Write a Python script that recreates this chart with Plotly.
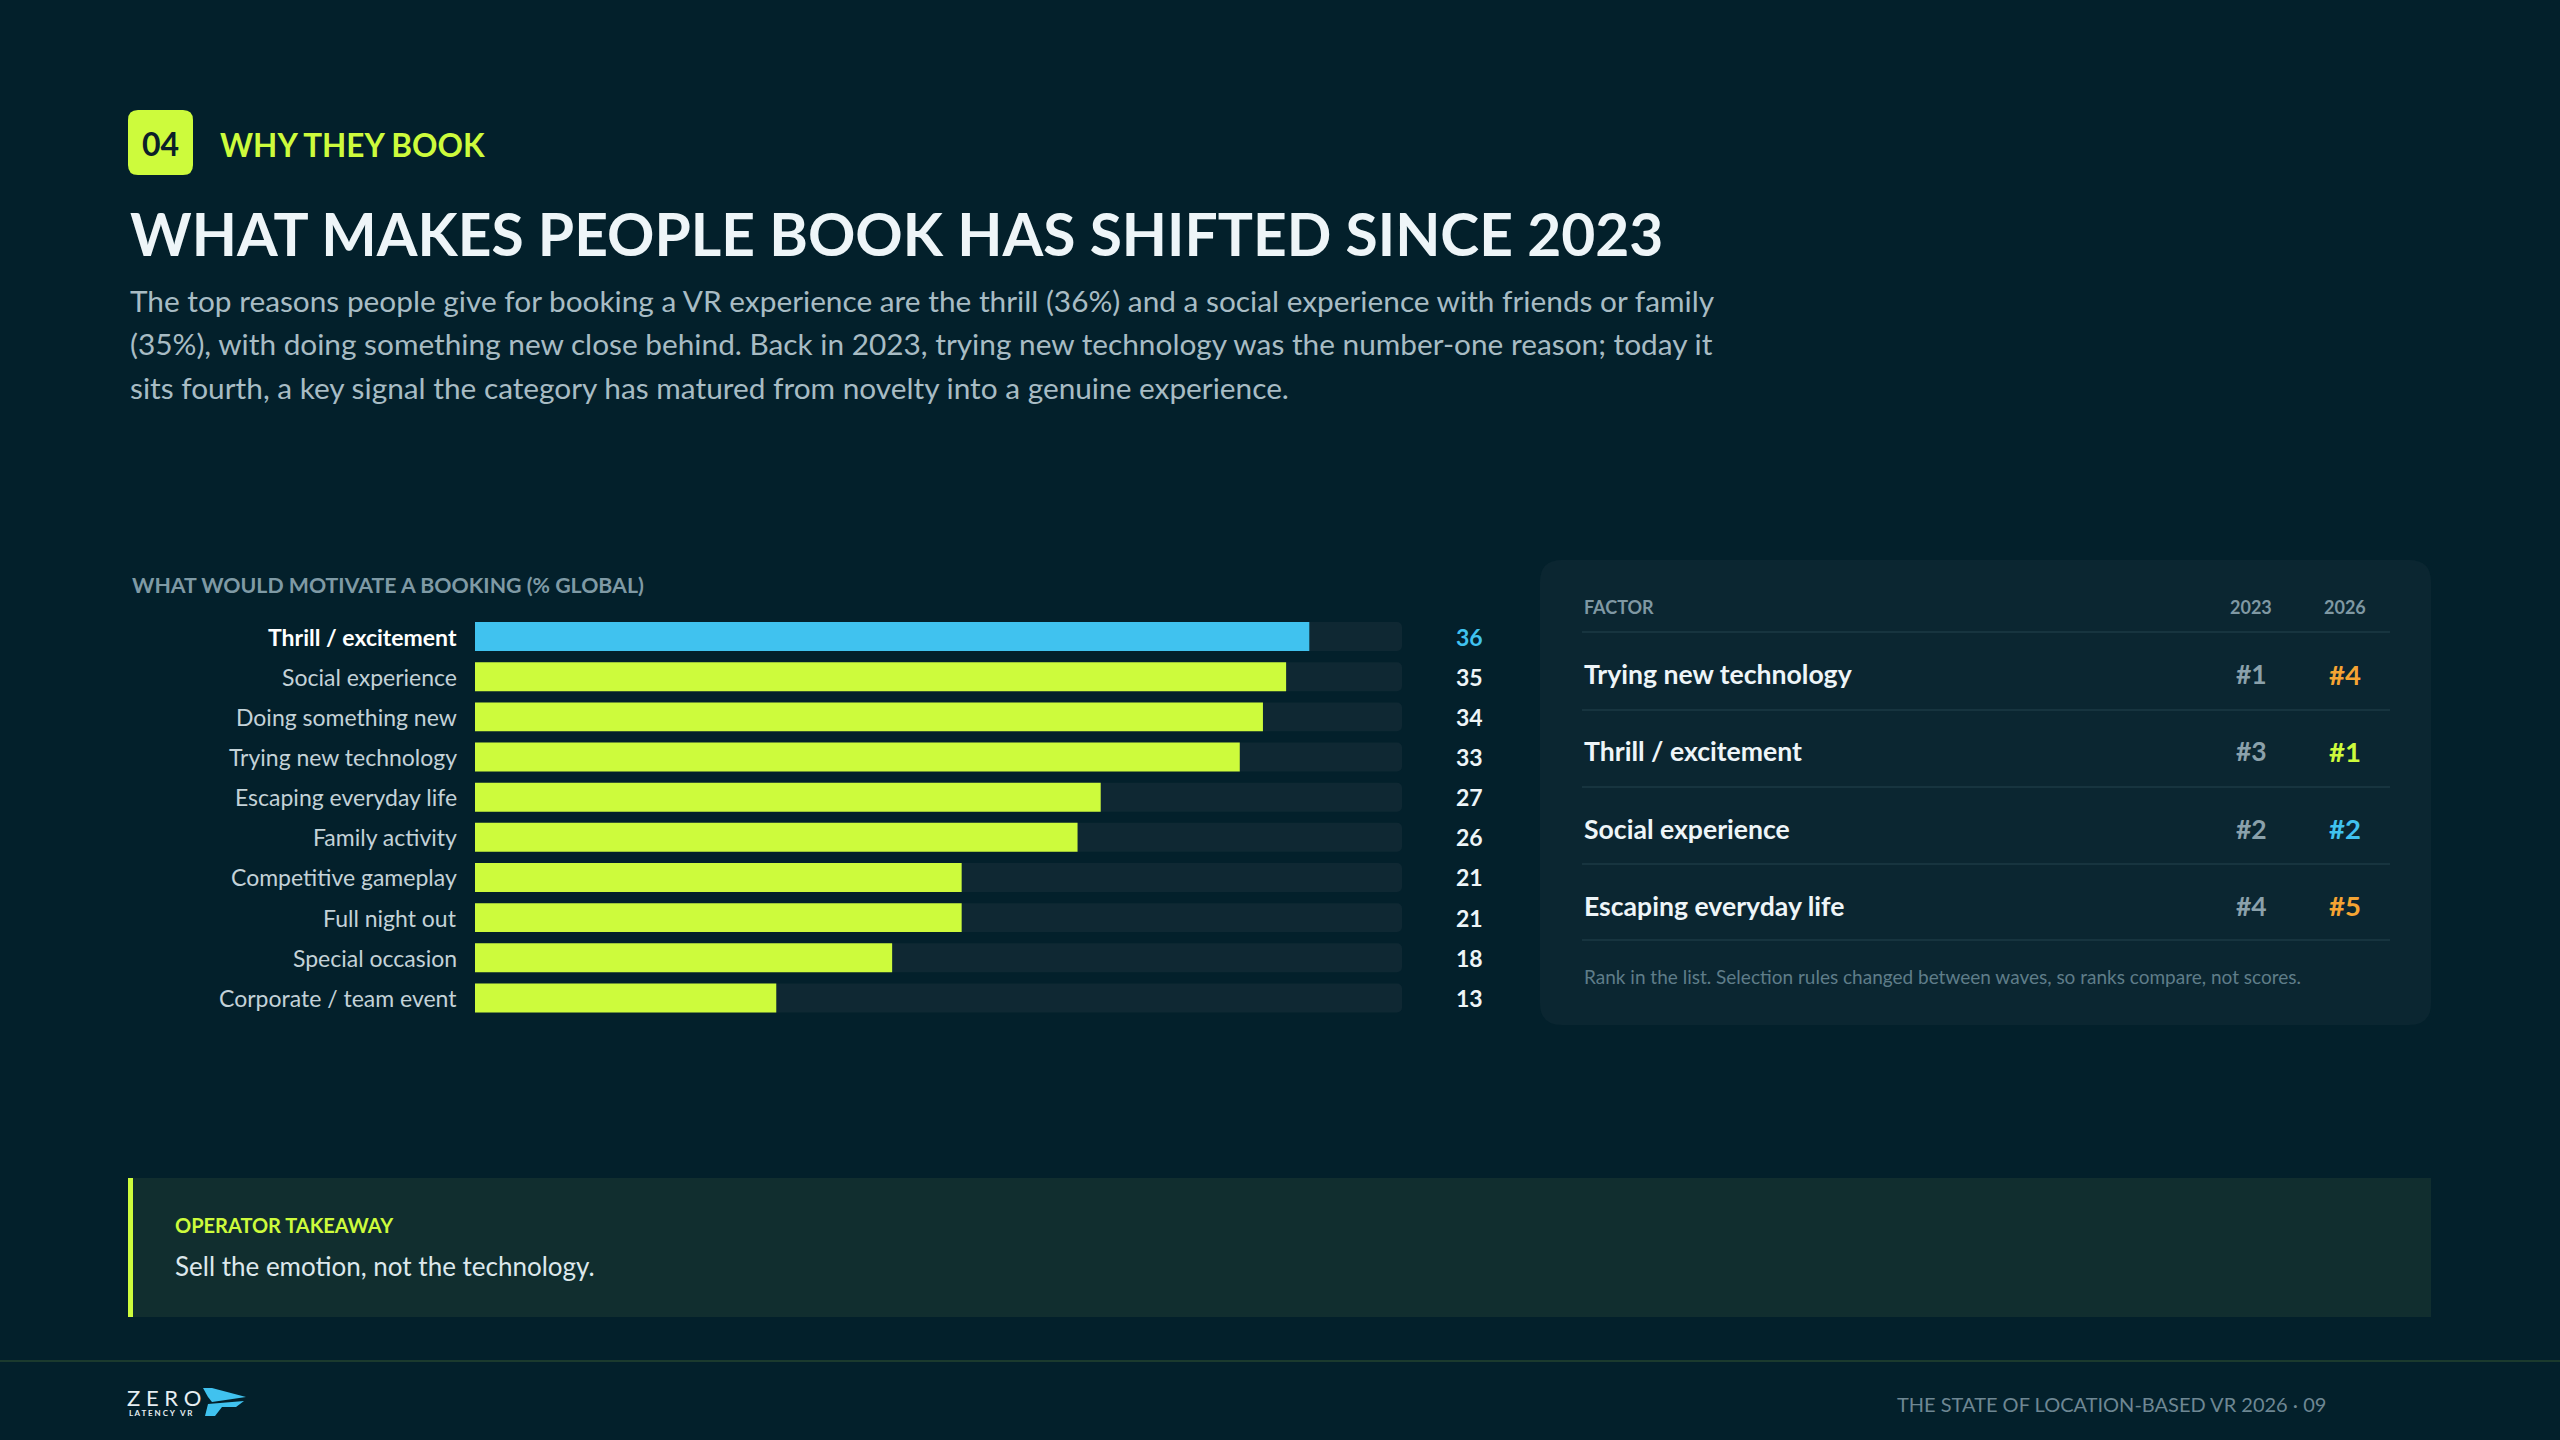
import plotly.graph_objects as go

# === Data ===
categories = [
    "Thrill / excitement", "Social experience", "Doing something new",
    "Trying new technology", "Escaping everyday life", "Family activity",
    "Competitive gameplay", "Full night out", "Special occasion",
    "Corporate / team event",
]
values = [36, 35, 34, 33, 27, 26, 21, 21, 18, 13]
scale_max = 40

table_factors = ["Trying new technology", "Thrill / excitement", "Social experience", "Escaping everyday life"]
rank_2023 = ["#1", "#3", "#2", "#4"]
rank_2026 = ["#4", "#1", "#2", "#5"]

paragraph_lines = [
    "The top reasons people give for booking a VR experience are the thrill (36%) and a social experience with friends or family",
    "(35%), with doing something new close behind. Back in 2023, trying new technology was the number-one reason; today it",
    "sits fourth, a key signal the category has matured from novelty into a genuine experience.",
]

# === Style ===
W, H = 2560, 1440
BG = "#03202b"
LIME = "#cdfb3c"
BLUE = "#40c2ef"
ORANGE = "#f5a433"
TRACK = "#0f2833"
PANEL = "#0b2631"
FONT = "Lato"
rank_2026_colors = [ORANGE, LIME, BLUE, ORANGE]


def px(x):
    return x / W


def py(y):
    return 1 - y / H


def rrect(x0, y0, x1, y1, r, fill):
    # rounded rectangle in page pixels -> paper path
    pts = (f"M {px(x0 + r)},{py(y0)} L {px(x1 - r)},{py(y0)} "
           f"Q {px(x1)},{py(y0)} {px(x1)},{py(y0 + r)} L {px(x1)},{py(y1 - r)} "
           f"Q {px(x1)},{py(y1)} {px(x1 - r)},{py(y1)} L {px(x0 + r)},{py(y1)} "
           f"Q {px(x0)},{py(y1)} {px(x0)},{py(y1 - r)} L {px(x0)},{py(y0 + r)} "
           f"Q {px(x0)},{py(y0)} {px(x0 + r)},{py(y0)} Z")
    return dict(type="path", path=pts, xref="paper", yref="paper",
                fillcolor=fill, line=dict(width=0), layer="below")


def txt(x, y, text, size, color, weight=400, anchor="left", yref="paper"):
    return dict(x=px(x), y=py(y) if yref == "paper" else y, xref="paper", yref=yref,
                text=text, showarrow=False, xanchor=anchor, yanchor="middle",
                font=dict(family=FONT, size=size, color=color, weight=weight))


fig = go.Figure()

# Track bars (full scale) then value bars on top
fig.add_trace(go.Bar(
    y=categories, x=[scale_max] * len(categories), orientation="h",
    marker=dict(color=TRACK, cornerradius=5, line=dict(width=0)), width=0.72, hoverinfo="skip",
))
fig.add_trace(go.Bar(
    y=categories, x=values, orientation="h",
    marker=dict(color=[BLUE] + [LIME] * (len(values) - 1), cornerradius=7, line=dict(width=0)),
    width=0.72,
))

shapes = []
annotations = []

# Header
shapes.append(rrect(128, 110, 193, 175, 10, LIME))
annotations.append(txt(160.5, 144, "04", 32, "#0b2029", 700, "center"))
annotations.append(txt(218, 145, "WHY THEY BOOK", 31.5, LIME, 700))
annotations.append(txt(128, 234, "WHAT MAKES PEOPLE BOOK HAS SHIFTED SINCE 2023", 58.7, "#eef5f8", 700))
for i, line in enumerate(paragraph_lines):
    annotations.append(txt(128, 300 + i * 43.5, line, 29.8, "#a8bcc4"))

# Bar chart labels
annotations.append(txt(130, 585, "WHAT WOULD MOTIVATE A BOOKING (% GLOBAL)", 21.3, "#7f9aa5", 700))
for i, (cat, val) in enumerate(zip(categories, values)):
    top = i == 0
    annotations.append(txt(459, cat, cat, 23, "#ffffff" if top else "#c3d2d8",
                           700 if top else 400, "right", yref="y"))
    annotations.append(txt(1485, cat, str(val), 23, BLUE if top else "#eef5f8", 700, "right", yref="y"))

# Ranking panel
shapes.append(rrect(1540, 560, 2431, 1025, 22, PANEL))
annotations.append(txt(1582, 607, "FACTOR", 18, "#7f98a3", 700))
annotations.append(txt(2251, 607, "2023", 18, "#7f98a3", 700, "center"))
annotations.append(txt(2345, 607, "2026", 18, "#7f98a3", 700, "center"))
for ly in [632, 710, 787, 864, 940]:
    shapes.append(dict(type="line", xref="paper", yref="paper", x0=px(1582), x1=px(2390),
                       y0=py(ly), y1=py(ly), line=dict(color="#17343f", width=2)))
for i, (f, r23, r26) in enumerate(zip(table_factors, rank_2023, rank_2026)):
    ry = 674 + i * 77.3
    annotations.append(txt(1582, ry, f, 26.6, "#eef5f8", 700))
    annotations.append(txt(2251, ry, r23, 26.5, "#8ba1ab", 700, "center"))
    annotations.append(txt(2345, ry, r26, 27.5, rank_2026_colors[i], 700, "center"))
annotations.append(txt(1582, 976, "Rank in the list. Selection rules changed between waves, so ranks compare, not scores.",
                       19, "#5f7d89"))

# Takeaway box
shapes.append(dict(type="rect", xref="paper", yref="paper", x0=px(128), x1=px(2431),
                   y0=py(1178), y1=py(1317), fillcolor="#112e2f", line=dict(width=0), layer="below"))
shapes.append(dict(type="rect", xref="paper", yref="paper", x0=px(128), x1=px(133),
                   y0=py(1178), y1=py(1317), fillcolor=LIME, line=dict(width=0), layer="below"))
annotations.append(txt(173, 1225, "OPERATOR TAKEAWAY", 20, LIME, 700))
annotations.append(txt(173, 1266, "Sell the emotion, not the technology.", 26, "#dde8ec"))

# Footer
shapes.append(dict(type="line", xref="paper", yref="paper", x0=0, x1=1, y0=py(1361), y1=py(1361),
                   line=dict(color="#1b3a2e", width=2)))
annotations.append(txt(125, 1397, "Z E R O", 22, "#e6eef2", 400))
annotations.append(txt(127, 1413, "L A T E N C Y   V R", 8, "#e6eef2", 700))
for pts in [[(203, 1388), (212, 1388), (246, 1397), (212, 1402), (208, 1397)],
            [(208, 1404), (244, 1401), (236, 1407), (222, 1407), (215, 1416), (205, 1416)]]:
    path = "M " + " L ".join(f"{px(x)},{py(y)}" for x, y in pts) + " Z"
    shapes.append(dict(type="path", path=path, xref="paper", yref="paper",
                       fillcolor=BLUE, line=dict(width=0)))
annotations.append(txt(2328, 1404, "THE STATE OF LOCATION-BASED VR 2026 · 09", 20, "#6e8793", 400, "right"))

fig.update_layout(
    width=W, height=H,
    margin=dict(l=0, r=0, t=0, b=0),
    paper_bgcolor=BG, plot_bgcolor="rgba(0,0,0,0)",
    barmode="overlay", showlegend=False,
    xaxis=dict(domain=[px(475), px(1402)], range=[0, scale_max], visible=False, fixedrange=True),
    yaxis=dict(domain=[py(1018), py(616.5)], autorange="reversed", visible=False,
               categoryorder="array", categoryarray=categories),
    shapes=shapes, annotations=annotations,
    font=dict(family=FONT),
)

fig.write_html("out.html", config={"displayModeBar": False},
               post_script="document.body.style.margin='0';document.body.style.background='#03202b';")
